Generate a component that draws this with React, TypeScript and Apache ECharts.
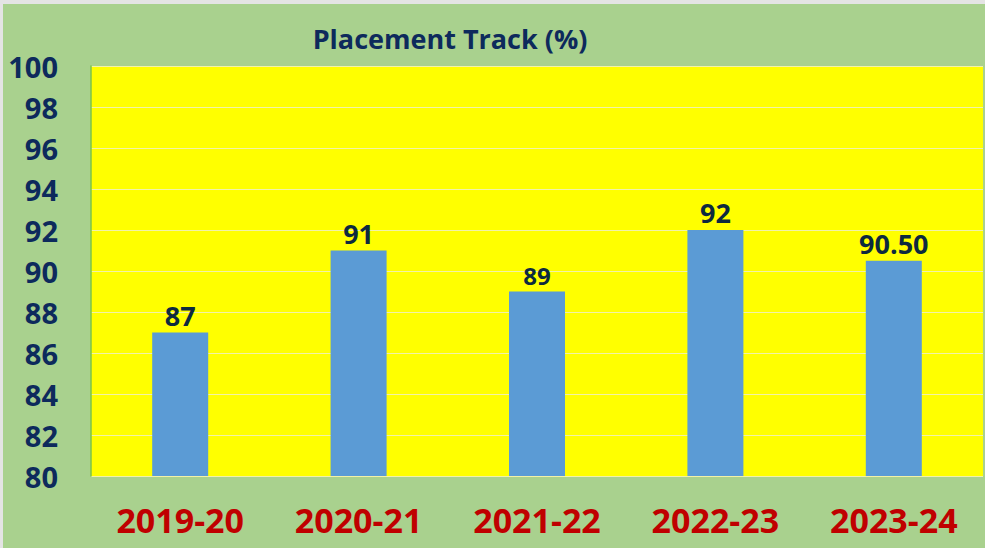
import React, { useEffect, useRef } from "react";
import * as echarts from "echarts";

const categories = ["2019-20", "2020-21", "2021-22", "2022-23", "2023-24"];
const values = [87, 91, 89, 92, 90.5];
const valueLabels = ["87", "91", "89", "92", "90.50"];
const labelSizes = [27, 27, 24, 27, 27];
const yMin = 80;
const yMax = 100;
const yInterval = 2;

export default function App() {
  const ref = useRef<HTMLDivElement>(null);
  useEffect(() => {
    if (!ref.current) return;
    const chart = echarts.init(ref.current, undefined, { renderer: "svg" });
    const font = "'Open Sans', 'Liberation Sans', sans-serif";
    chart.setOption({
      animation: false,
      backgroundColor: "#a9d18e",
      title: {
        text: "Placement Track (%)",
        left: 442,
        top: 16,
        textAlign: "center",
        textStyle: { fontFamily: font, fontWeight: "bold", fontSize: 27, color: "#0d2a5c" },
      },
      grid: { left: 88, top: 62, right: 2, bottom: 72, show: true, backgroundColor: "#ffff00", borderWidth: 0 },
      xAxis: {
        type: "category",
        data: categories,
        axisLine: { show: false },
        axisTick: { show: false },
        axisLabel: { margin: 27, fontFamily: font, fontWeight: "bold", fontSize: 34, color: "#c00000" },
      },
      yAxis: {
        type: "value",
        min: yMin,
        max: yMax,
        interval: yInterval,
        axisLine: { show: true, lineStyle: { color: "#7cc544", width: 1.5 } },
        axisTick: { show: false },
        axisLabel: { margin: 33, fontFamily: font, fontWeight: "bold", fontSize: 29, color: "#0d2a5c" },
        splitLine: { show: true, lineStyle: { color: "#f2f2a8", width: 1 } },
      },
      series: [
        {
          type: "bar",
          data: values.map((v, i) => ({
            value: v,
            label: { fontSize: labelSizes[i] },
          })),
          barWidth: 56,
          itemStyle: { color: "#5b9bd5" },
          label: {
            show: true,
            position: "top",
            distance: 4,
            formatter: (p: any) => valueLabels[p.dataIndex],
            fontFamily: font,
            fontWeight: "bold",
            fontSize: 27,
            color: "#0d2a3f",
          },
        },
      ],
    });
    return () => chart.dispose();
  }, []);
  return (
    <div style={{ position: "fixed", left: 0, top: 0, width: 985, height: 548, background: "#e4e4e4" }}>
      <div ref={ref} style={{ position: "absolute", left: 3, top: 4, width: 982, height: 544 }} />
    </div>
  );
}
